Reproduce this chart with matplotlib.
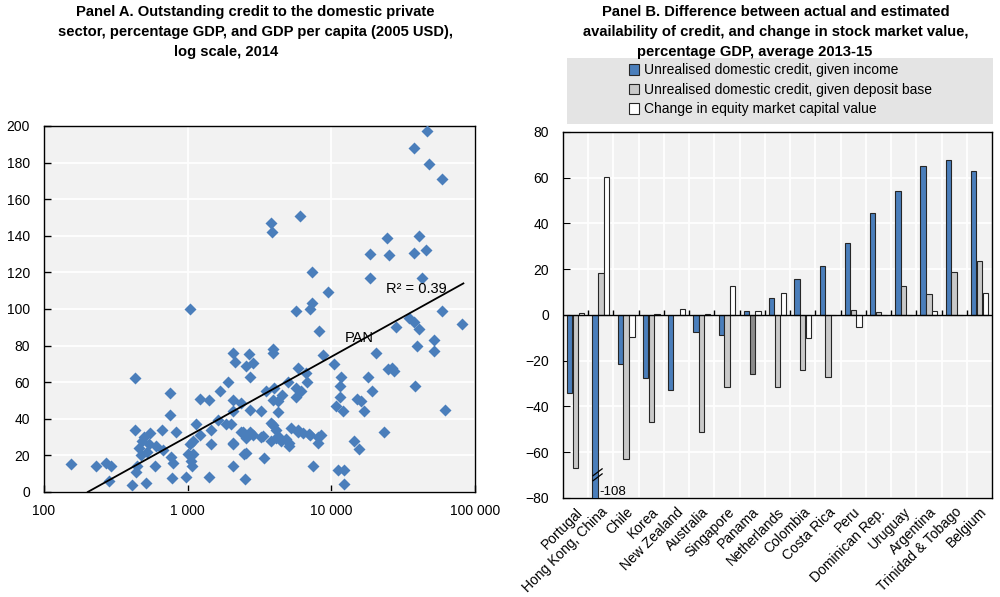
import numpy as np
import matplotlib
matplotlib.use('Agg')
import matplotlib.pyplot as plt
from matplotlib.patches import Rectangle, Patch
from matplotlib.ticker import NullLocator

plt.rcParams['font.family'] = ['Liberation Sans', 'DejaVu Sans']

# Panel A: GDP per capita (2005 USD) vs credit to private sector (% GDP)
gdp_per_capita = [
    153, 230, 269, 292, 284, 410, 428, 428, 441, 436,
    460, 480, 500, 470, 520, 540, 516, 545, 590, 606,
    667, 673, 758, 758, 770, 790, 783, 826, 978, 1005,
    1045, 1060, 1087, 1077, 1148, 1210, 1228, 1406, 1406, 1456,
    1465, 1667, 1621, 1856, 1906, 2066, 2125, 2066, 2082, 2066,
    2066, 2488, 7295, 9500, 5690, 7295, 7090, 8170, 3910, 3940,
    2667, 2860, 2550, 2730, 8800, 5830, 6640, 6820, 4980, 5690,
    6160, 3524, 4020, 4560, 4230, 3910, 5690, 2350, 2700, 3240,
    4230, 3820, 4140, 2350, 2700, 2830, 3320, 2530, 4140, 4470,
    5100, 4870, 5230, 5830, 6300, 7120, 8440, 8040, 1030, 1087,
    2530, 3380, 7470, 11070, 12300, 12300, 14450, 15620, 11680, 11400,
    11400, 12000, 10800, 15200, 16000, 16900, 17870, 19200, 20400, 23300,
    24700, 27200, 26500, 28300, 34800, 37700, 40800, 39700, 38000, 51900,
    51900, 59300, 61500, 81700, 46700, 37700, 47700, 59300, 3810, 3870,
    6050, 24400, 40800, 18600, 25200, 37700, 45600, 18600, 42500, 10490,
    2000, 2420, 3240, 2080, 2470, 4330, 5100, 3810, 3910, 5830, 7040, 8040,
]
credit_gdp = [
    15, 14, 16, 14, 6, 4, 62, 34, 14, 11,
    24, 28, 30, 20, 22, 26, 5, 32, 14, 25,
    34, 23, 54, 42, 19, 16, 7.5, 32.5, 8, 21,
    100, 17, 28, 14, 37, 51, 31, 50, 8, 26,
    34, 55, 39.5, 37, 60, 76, 71, 26, 14, 50,
    44, 7, 120, 109, 99, 103, 100, 88, 78, 76,
    75.5, 70.5, 68.7, 63, 75, 68, 65, 60, 60, 57,
    55, 55, 57, 53, 49.5, 50.4, 52, 48.6, 45, 44,
    43.5, 37.6, 34, 32.5, 33, 31, 30.7, 29.4, 29.4, 27.6,
    26.7, 29, 35, 34, 32, 31, 31, 27, 26, 21,
    21.5, 18.5, 14, 12, 12, 4.4, 28, 23.4, 63, 58,
    52, 44, 47, 51, 49.5, 44.5, 63, 55, 76, 33,
    67, 66, 68, 90, 95, 93, 89, 80, 58, 83,
    77, 99, 45, 92, 197, 188, 179, 171, 147, 142,
    151, 139, 140, 130, 129.5, 130.4, 132, 117, 117, 70,
    37, 33, 30, 27, 21, 30, 25, 27.6, 36.7, 33, 31.8, 30,
]
# fitted log-linear trend
trend_gdp = [202, 83000]
trend_slope = 43.6  # points of GDP per tenfold income
r2_label = 'R² = 0.39'
pan_label = 'PAN'

# Panel B
countries = ['Portugal', 'Hong Kong, China', 'Chile', 'Korea', 'New Zealand',
             'Australia', 'Singapore', 'Panama', 'Netherlands', 'Colombia',
             'Costa Rica', 'Peru', 'Dominican Rep.', 'Uruguay', 'Argentina',
             'Trinidad & Tobago', 'Belgium']
income_gap = [-34.2, -108, -21.4, -27.7, -32.8, -7.5, -8.6, 1.8, 7.6, 15.6,
              21.4, 31.6, 44.4, 54.3, 65.1, 67.7, 63.0]
deposit_gap = [-67, 18.2, -63, -47, 0, -51.4, -31.6, -25.8, -31.6, -24,
               -27.2, 2.2, 1.2, 12.7, 9, 18.9, 23.6]
equity_change = [0.8, 60.4, -9.7, 0.3, 2.5, 0.3, 12.8, 1.9, 9.5, -9.9,
                 0, -5.4, 0, 0, 1.9, 0, 9.5]
legend_labels = ['Unrealised domestic credit, given income',
                 'Unrealised domestic credit, given deposit base',
                 'Change in equity market capital value']

blue = '#4a7ebb'
light_grey = '#c9c9c9'
dark_grey = '#8c8c8c'
edge = '#262626'
bg = '#f2f2f2'
tick_fs = 10

fig = plt.figure(figsize=(10, 5.97), dpi=100)

# ---------- Panel A ----------
axA = fig.add_axes([0.044, 0.176, 0.431, 0.613])
axA.set_facecolor(bg)
axA.plot(gdp_per_capita, credit_gdp, 'D', ms=5.8, color=blue, mec='none', zorder=3)
tx = np.array(trend_gdp, dtype=float)
axA.plot(tx, trend_slope * np.log10(tx / trend_gdp[0]), color='black', lw=1.3, zorder=4)
axA.text(24100, 110.7, r2_label, fontsize=10.5, va='center', ha='left', zorder=5)
axA.text(12400, 84, pan_label, fontsize=10.5, va='center', ha='left', zorder=5)
axA.set_xscale('log')
axA.set_xlim(100, 100000)
axA.set_ylim(0, 200)
axA.set_xticks([100, 1000, 10000, 100000])
axA.set_xticklabels(['100', '1 000', '10 000', '100 000'])
axA.xaxis.set_minor_locator(NullLocator())
axA.set_yticks(np.arange(0, 201, 20))
axA.grid(True, color='white', lw=1.3)
axA.set_axisbelow(True)
axA.tick_params(axis='y', direction='in', length=5, width=1, labelsize=tick_fs, pad=10)
axA.tick_params(axis='x', direction='in', length=5, width=1, labelsize=tick_fs, pad=9)
for s in axA.spines.values():
    s.set_color('black')
    s.set_linewidth(1)

# ---------- Panel B ----------
axB = fig.add_axes([0.563, 0.166, 0.429, 0.613])
axB.set_facecolor(bg)
x = np.arange(len(countries))
w = 0.21
grey_cols = [dark_grey if c == 'Panama' else light_grey for c in countries]
axB.bar(x - 0.23, income_gap, w, color=blue, edgecolor=edge, lw=0.8, zorder=3)
axB.bar(x, deposit_gap, w, color=grey_cols, edgecolor=edge, lw=0.8, zorder=3)
axB.bar(x + 0.23, equity_change, w, color='white', edgecolor=edge, lw=0.8, zorder=3)
axB.axhline(0, color='black', lw=1, zorder=4)
axB.vlines(x[:-1] + 0.5, 0, 2.2, color='black', lw=1, zorder=4)

# axis break for Hong Kong, China
hk = countries.index('Hong Kong, China')
hx = hk - 0.23
for dy in (0, 2.2):
    axB.plot([hx - 0.08, hx + 0.28], [-72.5 + dy, -69.5 + dy], color='black', lw=0.9, zorder=5)
axB.text(hx + 0.18, -77.3, '%d' % income_gap[hk], fontsize=9.5, va='center', ha='left', zorder=5)

axB.set_xlim(-0.5, len(countries) - 0.5)
axB.set_ylim(-80, 80)
axB.set_yticks(np.arange(-80, 81, 20))
axB.set_xticks(x)
axB.set_xticklabels(countries, rotation=45, ha='right', rotation_mode='anchor')
axB.set_xticks(x[:-1] + 0.5, minor=True)
axB.grid(True, which='minor', axis='x', color='white', lw=1.3)
axB.grid(True, which='major', axis='y', color='white', lw=1.3)
axB.set_axisbelow(True)
axB.tick_params(axis='y', direction='in', length=5, labelsize=tick_fs, pad=10)
axB.tick_params(axis='x', which='both', length=0, labelsize=tick_fs, pad=5)
for s in axB.spines.values():
    s.set_color('black')
    s.set_linewidth(1)

# ---------- titles ----------
titleA = ['Panel A. Outstanding credit to the domestic private',
          'sector, percentage GDP, and GDP per capita (2005 USD),',
          'log scale, 2014']
titleB = ['Panel B. Difference between actual and estimated',
          'availability of credit, and change in stock market value,',
          'percentage GDP, average 2013-15']
title_x_A = [0.255, 0.255, 0.226]
title_x_B = [0.776, 0.776, 0.755]
title_y = [0.973, 0.940, 0.907]
for lines, xs in ((titleA, title_x_A), (titleB, title_x_B)):
    for txt, tx_, ty in zip(lines, xs, title_y):
        fig.text(tx_, ty, txt, ha='center', va='baseline', fontsize=10.6, fontweight='bold')

# ---------- legend ----------
fig.patches.append(Rectangle((0.567, 0.792), 0.426, 0.1106, transform=fig.transFigure,
                             facecolor='#e4e4e4', edgecolor='none', zorder=0))
handles = [Patch(facecolor=blue, edgecolor=edge, lw=0.8),
           Patch(facecolor=light_grey, edgecolor=edge, lw=0.8),
           Patch(facecolor='white', edgecolor=edge, lw=0.8)]
fig.legend(handles, legend_labels, loc='upper left', bbox_to_anchor=(0.629, 0.894),
           frameon=False, fontsize=10, handlelength=0.75, handleheight=0.75,
           handletextpad=0.3, labelspacing=0.4, borderpad=0, borderaxespad=0)

fig.savefig('out.png', dpi=100)
